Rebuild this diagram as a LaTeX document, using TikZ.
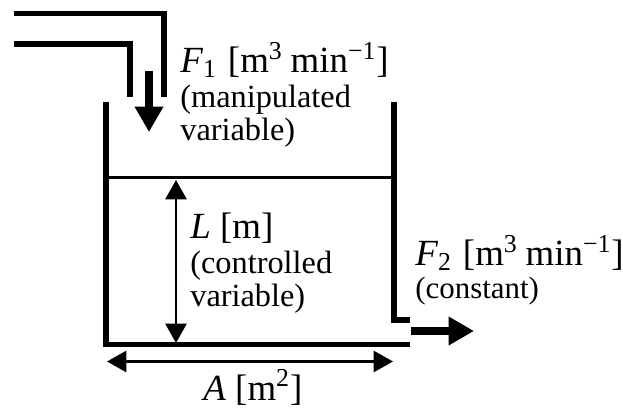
\documentclass[tikz,border=0pt]{standalone}
\usepackage{fontspec}
\setmainfont{Liberation Serif}
\usepackage{xcolor}
\usetikzlibrary{arrows.meta,positioning}

\tikzset{
  wall/.style={line width=3.4pt,line cap=butt,line join=miter},
  flow/.style={line width=4.6pt,-{Triangle[length=14.5pt,width=15.5pt]}},
  span/.style={line width=1.3pt,{Triangle[length=11pt,width=12pt]}-{Triangle[length=11pt,width=12pt]}},
  lbl/.style={font=\fontsize{21}{22}\selectfont,inner sep=0pt,anchor=west,align=left},
  sub/.style={font=\fontsize{18.4}{18.8}\selectfont,inner sep=0pt,anchor=west,align=left}
}
\newcommand{\flowunit}{\hspace{1pt}[m\textsuperscript{3}\hspace{4.5pt}min\textsuperscript{−1}]}

\begin{document}
\begin{tikzpicture}[x=0.02cm,y=-0.02cm]
\useasboundingbox (0,0) rectangle (623,408);

% Feed pipe
\coordinate (pipeAstart) at (14,13.5);
\coordinate (pipeAbend) at (164,13.5);
\coordinate (pipeAend) at (164,97);
\coordinate (pipeBstart) at (14,44);
\coordinate (pipeBbend) at (130,44);
\coordinate (pipeBend) at (130,97);
\draw[wall] (pipeAstart) -- (pipeAbend) -- (pipeAend);
\draw[wall] (pipeBstart) -- (pipeBbend) -- (pipeBend);

% Tank
\coordinate (tankTL) at (106,102);
\coordinate (tankBL) at (106,344.5);
\coordinate (tankBR) at (410,344.5);
\coordinate (tankTR) at (394,102);
\coordinate (tankOut) at (394,320);
\coordinate (tankLip) at (410,320);
\draw[wall] (tankTL) -- (tankBL) -- (tankBR);
\draw[wall] (tankTR) -- (tankOut) -- (tankLip);

% Liquid level
\coordinate (levelL) at (106,177.5);
\coordinate (levelR) at (394,177.5);
\draw[line width=1.3pt] (levelL) -- (levelR);

% Flows
\coordinate (inA) at (149,71);
\coordinate (inB) at (149,132);
\coordinate (outA) at (411,331);
\coordinate (outB) at (474,331);
\draw[flow] (inA) -- (inB);
\draw[flow] (outA) -- (outB);

% Dimensions
\coordinate (heightA) at (176,180);
\coordinate (heightB) at (176,343);
\coordinate (widthA) at (107,361.5);
\coordinate (widthB) at (393,361.5);
\draw[span] (heightA) -- (heightB);
\draw[span] (widthA) -- (widthB);

% Labels
\node[lbl] (fone) at (180,60) {\textit{F}\textsubscript{1} \flowunit};
\node[sub] (foneNote) at (180,116) {(manipulated\\variable)};
\node[lbl] (level) at (190,228) {\textit{L} [m]};
\node[sub] (levelNote) at (190,282) {(controlled\\variable)};
\node[lbl] (ftwo) at (415,253) {\textit{F}\textsubscript{2} \flowunit};
\node[sub,font=\fontsize{17.6}{18.8}\selectfont] (ftwoNote) at (415,291) {(constant)};
\node[lbl] (area) at (203,387.5) {\textit{A} [m\textsuperscript{2}]};
\end{tikzpicture}
\end{document}
